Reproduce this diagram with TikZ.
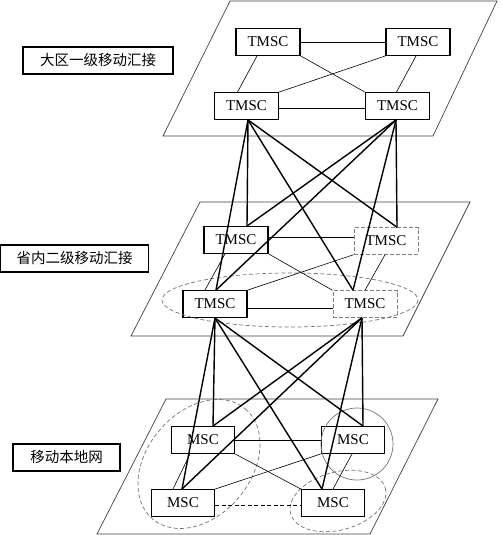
\documentclass[tikz,border=0pt]{standalone}
\usepackage{fontspec}
\setmainfont{Liberation Serif}
\newfontfamily\cjk{Noto Sans CJK SC}
\begin{document}
\begin{tikzpicture}[x=1pt,y=-1pt,
  plane/.style={draw=black!75, line width=0.7pt},
  tbox/.style={draw, line width=1.4pt, minimum width=64pt, minimum height=26.5pt, inner sep=0pt, font=\fontsize{15}{15}\selectfont},
  dbox/.style={tbox, draw=black!50, dash pattern=on 4pt off 2pt, line width=1pt},
  lbl/.style={draw, line width=1.4pt, minimum height=27pt, inner sep=0pt, font=\cjk\fontsize{14.5}{15}\selectfont},
  thinln/.style={line width=0.6pt},
  thickln/.style={line width=1.4pt},
  ring/.style={draw=black!55, line width=0.7pt},
  dring/.style={draw=black!55, line width=0.7pt, dash pattern=on 4pt off 2.5pt}]
\useasboundingbox (0,0) rectangle (501,535);

% planes
\draw[plane] (230,1) -- (497,1) -- (433,136) -- (163,136) -- cycle;
\draw[plane] (200,202) -- (470,202) -- (403,336) -- (131,336) -- cycle;
\draw[plane] (166,399) -- (438,399) -- (370,534) -- (97,534) -- cycle;

% labels
\node[lbl, minimum width=150pt] (l1) at (98,60.5) {大区一级移动汇接};
\node[lbl, minimum width=148pt] (l2) at (74.7,258.5) {省内二级移动汇接};
\node[lbl, minimum width=107pt] (l3) at (66.5,457.5) {移动本地网};

% top nodes
\node[tbox] (t1) at (268,42) {TMSC};
\node[tbox] (t2) at (418,42) {TMSC};
\node[tbox] (t3) at (246.5,106) {TMSC};
\node[tbox] (t4) at (397.5,106) {TMSC};

% middle nodes
\node[tbox] (m1) at (236,240) {TMSC};
\node[dbox] (m2) at (386,241) {TMSC};
\node[tbox] (m3) at (215,304) {TMSC};
\node[dbox] (m4) at (365,304) {TMSC};

% bottom nodes
\node[tbox, minimum width=63pt] (b1) at (203,440) {MSC};
\node[tbox, minimum width=63pt] (b2) at (353,440) {MSC};
\node[tbox, minimum width=63pt] (b3) at (183,503) {MSC};
\node[tbox, minimum width=63pt] (b4) at (333,503) {MSC};

% rings
\draw[dring] (290,300) ellipse [x radius=128, y radius=27];
\draw[dring, rotate around={50:(199,464)}] (199,464) ellipse [x radius=72, y radius=52];
\draw[ring] (357,444) circle [radius=36];
\draw[dring, rotate around={15:(338,501)}] (338,501) ellipse [x radius=49, y radius=29];

% top plane links
\draw[thinln] (t1.east) -- (t2.west);
\draw[thinln] ([yshift=-2pt]t3.east) -- ([yshift=-2pt]t3.east -| t4.west);
\draw[thinln] ([xshift=-11pt]t1.south) -- ([xshift=-9pt]t3.north);
\draw[thinln] ([xshift=-2pt]t2.south) -- ([xshift=-1pt]t4.north);
\draw[thinln] (t1.south east) -- (t4.north west);
\draw[thinln] (t2.south west) -- (t3.north east);

% middle plane links
\draw[thinln] ([yshift=3pt]m1.east) -- ([yshift=3pt]m1.east -| m2.west);
\draw[thinln] ([yshift=-4pt]m3.east) -- ([yshift=-4pt]m3.east -| m4.west);
\draw[thinln] ([xshift=-11pt]m1.south) -- ([xshift=-10pt]m3.north);
\draw[thinln] ([xshift=-1pt]m2.south) -- (m4.north);
\draw[thinln] (m1.south east) -- (m4.north west);
\draw[thinln] (m2.south west) -- (m3.north east);

% bottom plane links
\draw[thinln] (b1.east) -- (b2.west);
\draw[line width=0.9pt, dash pattern=on 4pt off 2.5pt] ([yshift=-2pt]b3.east) -- ([yshift=-2pt]b3.east -| b4.west);
\draw[thinln] ([xshift=-13pt]b1.south) -- ([xshift=-10pt]b3.north);
\draw[thinln] ([xshift=-1pt]b2.south) -- (b4.north);
\draw[thinln] (b1.south east) -- (b4.north west);
\draw[thinln] (b2.south west) -- (b3.north east);

% anchor points for inter-layer links
\coordinate (t3b) at ([xshift=1.5pt]t3.south);
\coordinate (t4b) at ([xshift=-1.5pt]t4.south);
\coordinate (m1t) at ([xshift=11pt]m1.north);
\coordinate (m2t) at ([xshift=11pt]m2.north);
\coordinate (m3t) at ([xshift=1pt]m3.north);
\coordinate (m4t) at ([xshift=-12pt]m4.north);
\coordinate (m3b) at (m3.south);
\coordinate (m4b) at ([xshift=-3pt]m4.south);
\coordinate (b1t) at ([xshift=10pt]b1.north);
\coordinate (b2t) at ([xshift=10pt]b2.north);
\coordinate (b3t) at ([xshift=-1pt]b3.north);
\coordinate (b4t) at ([xshift=-11pt]b4.north);

% top -> middle
\foreach \s in {t3b,t4b}{
  \foreach \e in {m1t,m2t,m3t,m4t}{
    \draw[thickln] (\s) -- (\e);
  }
}
% middle -> bottom
\foreach \s in {m3b,m4b}{
  \foreach \e in {b1t,b2t,b3t,b4t}{
    \draw[thickln] (\s) -- (\e);
  }
}
\end{tikzpicture}
\end{document}
